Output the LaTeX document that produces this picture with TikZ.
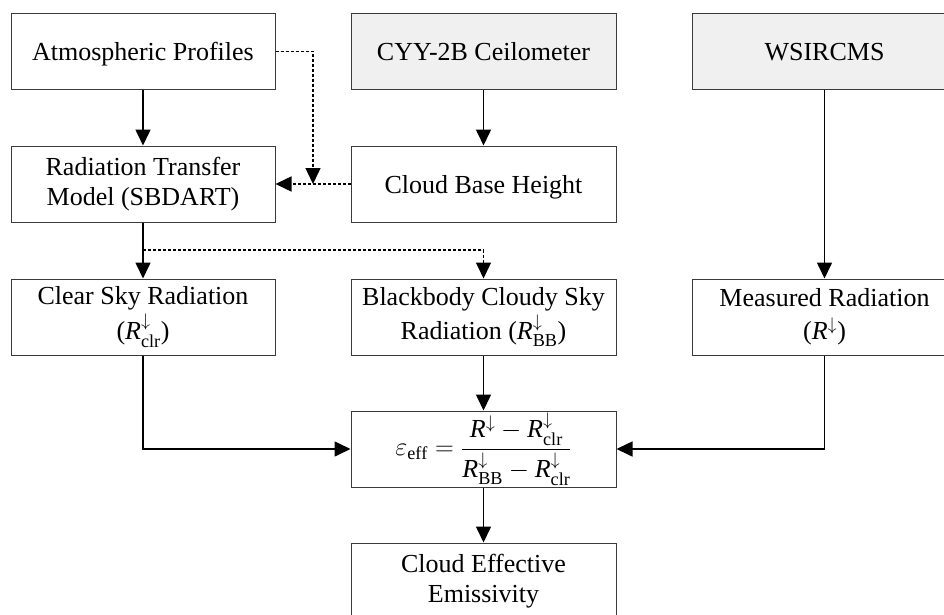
\RequirePackage{fix-cm}
\documentclass[tikz,border=0pt]{standalone}
\usepackage{amsmath}
\usepackage{fontspec}
\setmainfont{Liberation Serif}
\usetikzlibrary{arrows.meta}
\definecolor{boxline}{HTML}{3A3A3A}
\definecolor{boxfill}{HTML}{F0F0F0}
\newcommand{\Rd}{\mathit{R}^{\downarrow}}
\begin{document}
\begin{tikzpicture}[x=1pt,y=-1pt,
  box/.style={draw=boxline, line width=1pt, minimum width=265pt, minimum height=76pt,
    inner sep=0pt, align=center, font=\fontsize{26}{30}\selectfont},
  oneline/.style={text height=18pt, text depth=0pt},
  greybox/.style={box, oneline, fill=boxfill},
  arr/.style={line width=1.6pt, -{Triangle[length=16pt,width=15pt]}},
  dotarr/.style={arr, line width=1.4pt, dash pattern=on 3pt off 2pt}]
\clip (0,0) rectangle (944,615);
\fill[white] (0,0) rectangle (944,615);
% row 1
\node[box, oneline, minimum width=264pt] (atm) at (143,51.5) {Atmospheric Profiles};
\node[greybox] (cyy) at (483.5,51.5) {CYY-2B Ceilometer};
\node[greybox] (wsi) at (824.5,51.5) {WSIRCMS};
% row 2
\node[box, minimum width=264pt] (rtm) at (143,184) {Radiation Transfer\\Model (SBDART)};
\node[box, oneline] (cbh) at (483.5,184) {Cloud Base Height};
% row 3
\node[box, minimum width=264pt] (clr) at (143,317) {Clear Sky Radiation\\[3pt]($\Rd_{\mathrm{clr}}$)};
\node[box] (bb) at (483.5,317) {Blackbody Cloudy Sky\\[3pt]Radiation ($\Rd_{\mathrm{BB}}$)};
\node[box] (meas) at (824.5,317) {Measured Radiation\\[3pt]($\Rd$)};
% row 4
\node[box] (eq) at (483.5,449) {$\displaystyle \varepsilon_{\mathrm{eff}}=\frac{\Rd-\Rd_{\mathrm{clr}}\rule[-6pt]{0pt}{6pt}}{\Rd_{\mathrm{BB}}-\Rd_{\mathrm{clr}}}$};
% row 5
\node[box] (cee) at (483.5,581) {Cloud Effective\\Emissivity};
% helper coordinates
\coordinate (j1) at (313,184);
\coordinate (j2) at (143,250);
% solid connectors
\draw[arr] (atm) -- (rtm);
\draw[arr] (cyy) -- (cbh);
\draw[arr] (wsi) -- (meas);
\draw[arr] (rtm) -- (clr);
\draw[arr] (bb) -- (eq);
\draw[arr] (eq) -- (cee);
\draw[arr] (clr.south) |- (eq.west);
\draw[arr] (meas.south) |- (eq.east);
% dotted connectors
\draw[dotarr] (atm.east) -| (j1);
\draw[dotarr] (cbh.west) -- (rtm.east);
\draw[dotarr] (j2) -| (bb.north);
\end{tikzpicture}
\end{document}
